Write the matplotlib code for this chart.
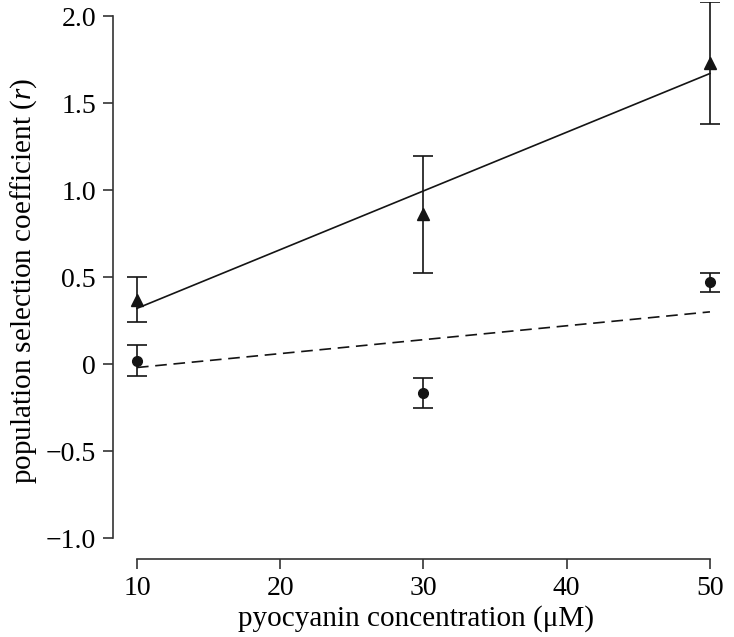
import matplotlib
matplotlib.use("Agg")
import matplotlib.pyplot as plt
import numpy as np

# pyocyanin concentration (uM)
conc = [10, 30, 50]
# triangles (mean and error)
tri_mean = [0.37, 0.86, 1.73]
tri_err = [0.13, 0.335, 0.35]
# circles (mean and error)
circ_mean = [0.02, -0.165, 0.47]
circ_err = [0.09, 0.085, 0.055]
# fitted lines, values at x=10 and x=50
fit_x = [10, 50]
fit_solid = [0.32, 1.67]
fit_dashed = [-0.02, 0.30]

xticks = [10, 20, 30, 40, 50]
yticks = [-1.0, -0.5, 0, 0.5, 1.0, 1.5, 2.0]
ytick_labels = ["\u22121.0", "\u22120.5", "0", "0.5", "1.0", "1.5", "2.0"]

plt.rcParams['font.family'] = ['Liberation Serif', 'DejaVu Serif']
plt.rcParams['mathtext.fontset'] = 'custom'
plt.rcParams['mathtext.rm'] = 'Liberation Serif'
plt.rcParams['mathtext.it'] = 'Liberation Serif:italic'

col = '#141414'
fig = plt.figure(figsize=(7.34, 6.37), dpi=100)
ax = fig.add_axes([0.1534, 0.1226, 0.8275, 0.874])

ax.plot(fit_x, fit_solid, color=col, lw=1.2)
ax.plot(fit_x, fit_dashed, color=col, lw=1.2, dashes=(7, 4))
ax.errorbar(conc, tri_mean, yerr=tri_err, fmt='^', color=col, ms=9,
            capsize=7.5, elinewidth=1.2, capthick=1.2)
ax.errorbar(conc, circ_mean, yerr=circ_err, fmt='o', color=col, ms=7,
            capsize=7.5, elinewidth=1.2, capthick=1.2)

ax.set_xlim(8.3, 50.7)
ax.set_ylim(-1.12, 2.08)
ax.set_xticks(xticks)
ax.set_yticks(yticks)
ax.set_yticklabels(ytick_labels)

# detached axes: only left and bottom, bounded to the tick range
for s in ['top', 'right']:
    ax.spines[s].set_visible(False)
ax.spines['left'].set_bounds(-1.0, 2.0)
ax.spines['bottom'].set_bounds(10, 50)
for s in ['left', 'bottom']:
    ax.spines[s].set_linewidth(1.2)
    ax.spines[s].set_color('#333333')
ax.tick_params(direction='out', length=7, width=1.2, color='#333333',
               labelsize=20, pad=5)

ax.set_xlabel("pyocyanin concentration (\u03bcM)", fontsize=21, labelpad=3)
ax.set_ylabel("population selection coefficient ($\\mathit{r}$)", fontsize=21, labelpad=5)

fig.savefig("out.png", dpi=100)
